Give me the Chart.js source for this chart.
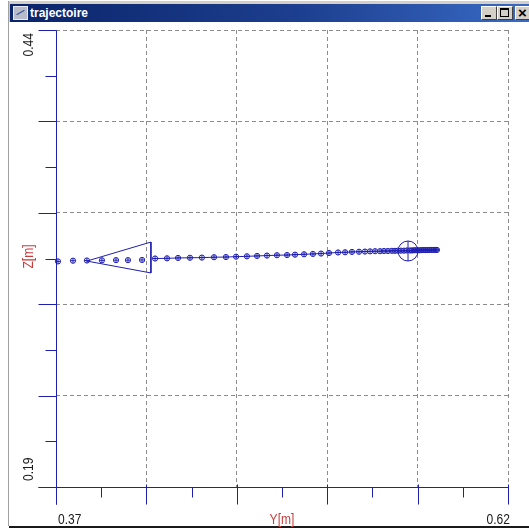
<!DOCTYPE html>
<html>
<head>
<meta charset="utf-8">
<title>trajectoire</title>
<script src="https://cdn.jsdelivr.net/npm/chart.js@4.4.0/dist/chart.umd.min.js"></script>
<style>
  html, body { margin: 0; padding: 0; background: #fff; overflow: hidden; }
  body { width: 529px; height: 530px; position: relative; }
  .frame { position: absolute; left: 8px; top: 1px; width: 540px; height: 525px; background: #d4d0c8; border-left: 1px solid #a0a0a0; }
  .titlebar { position: absolute; left: 10px; top: 4px; width: 530px; height: 18px;
    background: linear-gradient(to right, #0a246a 0%, #1d3f8f 55%, #3a6cc8 100%); }
  .titlebar .icon { position: absolute; left: 3px; top: 2px; width: 13px; height: 12px; background: #b8bcc8; border: 1px solid #e8e8f0; }
  .titlebar .icon:after { content: ""; position: absolute; left: 2px; top: 5px; width: 9px; height: 1px; background: #3050a0; transform: rotate(-30deg); }
  .titlebar .text { position: absolute; left: 20px; top: 2px; color: #fff; font: bold 12px "Liberation Sans", Arial, sans-serif; }
  .btn { position: absolute; top: 2px; width: 14px; height: 12px; background: #d4d0c8;
    border-top: 1px solid #fff; border-left: 1px solid #fff; border-right: 1px solid #404040; border-bottom: 1px solid #404040; }
  .btn.min { left: 471px; }
  .btn.max { left: 487px; }
  .btn.cls { left: 505px; }
  .btn.min:after { content: ""; position: absolute; left: 3px; top: 8px; width: 6px; height: 2px; background: #000; }
  .btn.max:after { content: ""; position: absolute; left: 2px; top: 1px; width: 7px; height: 6px; border: 1px solid #000; border-top-width: 2px; }
  .btn.cls:after { content: "\00D7"; position: absolute; left: 2px; top: -3px; font: bold 15px "Liberation Sans", Arial, sans-serif; color: #000; }
  .client { position: absolute; left: 9px; top: 22px; width: 530px; height: 504px; background: #fff; border-bottom: 2px solid #1a1a1a; }
  #chart { position: absolute; left: 0; top: 0; }
</style>
</head>
<body>
<div class="frame"></div>
<div class="titlebar">
  <div class="icon"></div>
  <div class="text">trajectoire</div>
  <div class="btn min"></div>
  <div class="btn max"></div>
  <div class="btn cls"></div>
</div>
<div class="client"></div>
<canvas id="chart" width="529" height="530"></canvas>
<script>
// axis labels / ticks
const xTitle = 'Y[m]';
const yTitle = 'Z[m]';
const xTickLabels = ['0.37', '0.62'];
const yTickLabels = ['0.19', '0.44'];
const xMajor = [0.37, 0.42, 0.47, 0.52, 0.57, 0.62];
const yMajor = [0.19, 0.24, 0.29, 0.34, 0.39, 0.44];

// first samples, plotted without a joining line
const yEarly = [0.3711, 0.3794, 0.3871, 0.3954, 0.4032, 0.4098, 0.4176];
const zEarly = [0.3134, 0.3138, 0.3139, 0.3140, 0.3141, 0.3141, 0.3142];

// joined trajectory
const yTrack = [0.4248, 0.4314, 0.4375, 0.4441, 0.4507, 0.4574, 0.4640, 0.4696, 0.4756, 0.4812,
  0.4867, 0.4922, 0.4978, 0.5022, 0.5072, 0.5121, 0.5166, 0.5210, 0.5260, 0.5299,
  0.5337, 0.5376, 0.5409, 0.5437, 0.5465, 0.5492, 0.5514, 0.5536, 0.5558, 0.5575,
  0.5591, 0.5608, 0.5625, 0.5641, 0.5658, 0.5669, 0.5680, 0.5691, 0.5702, 0.5713,
  0.5724, 0.5735, 0.5746, 0.5757, 0.5768, 0.5779, 0.5790, 0.5801, 0.5807];
const zTrack = [0.3150, 0.3151, 0.3153, 0.3154, 0.3155, 0.3157, 0.3158, 0.3160, 0.3162, 0.3164,
  0.3166, 0.3168, 0.3169, 0.3171, 0.3173, 0.3175, 0.3177, 0.3180, 0.3183, 0.3184,
  0.3186, 0.3187, 0.3188, 0.3189, 0.3190, 0.3190, 0.3191, 0.3191, 0.3192, 0.3192,
  0.3193, 0.3193, 0.3193, 0.3194, 0.3194, 0.3194, 0.3195, 0.3195, 0.3195, 0.3195,
  0.3196, 0.3196, 0.3196, 0.3196, 0.3197, 0.3197, 0.3197, 0.3197, 0.3197];

// direction arrow (triangle) and current position
const yArrow = [0.3871, 0.4225, 0.4225, 0.3871];
const zArrow = [0.3136, 0.3240, 0.3071, 0.3136];
const yNow = [0.5647];
const zNow = [0.3191];

const blue = '#1e1eb0';
const red = '#c83c3c';

function zip(a, b) { return a.map((v, i) => ({ x: v, y: b[i] })); }

function drawText(ctx, text, x, y, align, color, rotate) {
  ctx.save();
  ctx.translate(x, y);
  if (rotate) ctx.rotate(-Math.PI / 2);
  ctx.scale(0.86, 1);
  ctx.fillStyle = color;
  ctx.textAlign = align;
  ctx.textBaseline = 'alphabetic';
  ctx.fillText(text, 0, 0);
  ctx.restore();
}

// blue axes with major/minor tick marks, end labels and titles
const axisDecor = {
  id: 'axisDecor',
  beforeDatasetsDraw(chart) {
    const { ctx, chartArea: a, scales: { x, y } } = chart;
    const px = v => Math.round(x.getPixelForValue(v)) + 0.5;
    const py = v => Math.round(y.getPixelForValue(v)) + 0.5;
    const left = px(xMajor[0]);
    const bottom = py(yMajor[0]);
    ctx.save();
    ctx.strokeStyle = blue;
    ctx.lineWidth = 1;
    ctx.beginPath();
    ctx.moveTo(left - 18, bottom); ctx.lineTo(px(xMajor[xMajor.length - 1]), bottom);
    ctx.moveTo(left, py(yMajor[yMajor.length - 1])); ctx.lineTo(left, bottom + 17);
    xMajor.forEach((v, i) => {
      ctx.moveTo(px(v), bottom - 3); ctx.lineTo(px(v), bottom + 17);
      if (i < xMajor.length - 1) {
        const m = px((v + xMajor[i + 1]) / 2);
        ctx.moveTo(m, bottom); ctx.lineTo(m, bottom + 10);
      }
    });
    yMajor.forEach((v, i) => {
      ctx.moveTo(left - 18, py(v)); ctx.lineTo(left, py(v));
      if (i < yMajor.length - 1) {
        const m = py((v + yMajor[i + 1]) / 2);
        ctx.moveTo(left - 11, m); ctx.lineTo(left, m);
      }
    });
    ctx.stroke();

    ctx.font = '14px "Liberation Sans", Arial, sans-serif';
    const base = a.bottom + 37;
    drawText(ctx, xTickLabels[0], a.left + 2, base, 'left', '#1a1a1a');
    drawText(ctx, xTickLabels[1], a.right + 2, base, 'right', '#1a1a1a');
    drawText(ctx, xTitle, (a.left + a.right) / 2, base, 'center', red);
    const lx = a.left - 23;
    drawText(ctx, yTickLabels[1], lx, a.top + 3, 'right', '#1a1a1a', true);
    drawText(ctx, yTickLabels[0], lx, a.bottom - 6, 'left', '#1a1a1a', true);
    drawText(ctx, yTitle, lx, (a.top + a.bottom) / 2 - 2, 'center', red, true);
    ctx.restore();
  }
};

const gridColor = ctx => (ctx.index === 0 ? 'rgba(0,0,0,0)' : '#8c8c8c');

// each marker = open circle + cross on the same sample
const ring = (data, r, line) => ({
  data, showLine: !!line, borderColor: blue, borderWidth: 1,
  pointStyle: 'circle', pointRadius: r, pointBorderColor: blue, pointBorderWidth: 1,
  pointBackgroundColor: 'rgba(0,0,0,0)', fill: false, clip: false
});
const cross = (data, r) => ({
  data, showLine: false, pointStyle: 'cross', pointRadius: r,
  pointBorderColor: blue, pointBorderWidth: 1, clip: false
});

new Chart(document.getElementById('chart'), {
  type: 'scatter',
  data: {
    datasets: [
      { data: zip(yArrow, zArrow), showLine: true, borderColor: blue, borderWidth: 1, pointRadius: 0, fill: false, clip: false },
      ring(zip(yEarly, zEarly), 2.6, false),
      cross(zip(yEarly, zEarly), 2.6),
      ring(zip(yTrack, zTrack), 2.6, true),
      cross(zip(yTrack, zTrack), 2.6),
      ring(zip(yNow, zNow), 10, false),
      cross(zip(yNow, zNow), 10)
    ]
  },
  options: {
    responsive: false,
    animation: false,
    devicePixelRatio: 1,
    layout: { padding: { left: 56, top: 30, right: 21, bottom: 43 } },
    plugins: { legend: { display: false }, tooltip: { enabled: false } },
    scales: {
      x: {
        type: 'linear', min: xMajor[0], max: xMajor[xMajor.length - 1],
        afterBuildTicks: s => { s.ticks = xMajor.map(v => ({ value: v })); },
        ticks: { display: false },
        grid: { drawTicks: false, color: gridColor, lineWidth: 1 },
        border: { display: false, dash: [4, 3] }
      },
      y: {
        type: 'linear', min: yMajor[0], max: yMajor[yMajor.length - 1],
        afterBuildTicks: s => { s.ticks = yMajor.map(v => ({ value: v })); },
        ticks: { display: false },
        grid: { drawTicks: false, color: gridColor, lineWidth: 1 },
        border: { display: false, dash: [4, 3] }
      }
    }
  },
  plugins: [axisDecor]
});
</script>
</body>
</html>
